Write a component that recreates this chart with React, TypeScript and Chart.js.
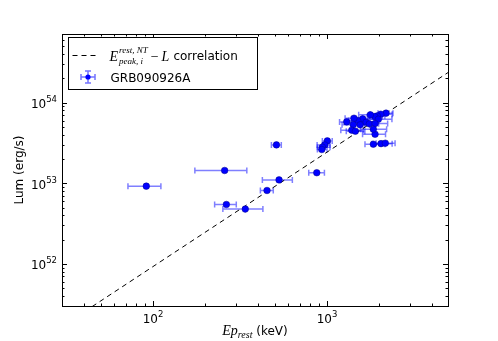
import { useEffect, useRef } from 'react';
import { Chart, registerables } from 'chart.js';

Chart.register(...registerables);

// Peak energy in rest frame (keV), with lower / upper error bar ends
const epRest = [91.5, 258, 512, 264, 339, 452, 530, 873,
  1004, 970, 940, 933,
  1845, 2043, 2162, 1888,
  2183, 2036, 1946, 1881, 1774, 1972, 1603, 1500, 1429, 1297, 1415, 1675, 1750, 1888, 1549, 1387, 1455, 1845];
const epLow = [71.8, 174, 479, 226, 252, 414, 425, 785,
  940, 877, 880, 880,
  1652, 1815, 1914, 1600,
  1963, 1766, 1750, 1700, 1520, 1760, 1380, 1330, 1270, 1180, 1220, 1450, 1560, 1580, 1380, 1200, 1290, 1560];
const epHigh = [111, 346, 546, 301, 428, 491, 632, 966,
  1071, 1040, 1040, 1000,
  2153, 2366, 2460, 2168,
  2393, 2366, 2150, 2080, 2010, 2360, 1850, 1720, 1600, 1450, 1640, 1950, 1980, 2230, 1760, 1620, 1650, 2200];
// Luminosity (erg/s)
const lum = [9.2e52, 1.44e53, 2.99e53, 5.45e52, 4.78e52, 8.13e52, 1.10e53, 1.35e53,
  3.35e53, 2.99e53, 2.80e53, 2.62e53,
  3.05e53, 3.10e53, 3.14e53, 4.05e53,
  7.40e53, 7.18e53, 6.84e53, 6.71e53, 7.05e53, 6.22e53, 6.28e53, 5.98e53, 6.41e53, 5.77e53, 5.33e53, 5.72e53, 5.45e53, 5.49e53, 5.30e53, 4.55e53, 4.42e53, 4.68e53];

// Correlation line endpoints
const corrEp = [30, 5000];
const corrLum = [1.675e51, 2.39e54];

// Axis limits and tick decades
const xMin = 30;
const xMax = 4955;
const yMin = 3e51;
const yMax = 7.1e54;
const xTickExps = [2, 3];
const yTickExps = [52, 53, 54];

const SANS = '"DejaVu Sans", sans-serif';
const MATH = '"Liberation Serif", "DejaVu Serif", serif';

function drawPow(ctx: CanvasRenderingContext2D, exp: number, x: number, y: number, align: 'center' | 'right') {
  ctx.font = `12px ${SANS}`;
  const wb = ctx.measureText('10').width;
  ctx.font = `8.5px ${SANS}`;
  const ws = ctx.measureText(String(exp)).width;
  const total = wb + ws;
  const x0 = align === 'center' ? x - total / 2 : x - total;
  ctx.textAlign = 'left';
  ctx.textBaseline = 'alphabetic';
  ctx.fillStyle = '#000';
  ctx.font = `12px ${SANS}`;
  ctx.fillText('10', x0, y);
  ctx.font = `8.5px ${SANS}`;
  ctx.fillText(String(exp), x0 + wb, y - 6);
}

const decorPlugin = {
  id: 'decor',
  beforeDatasetsDraw(chart: any) {
    const { ctx, chartArea: a } = chart;
    const xs = chart.scales.x;
    const ys = chart.scales.y;
    ctx.save();
    ctx.beginPath();
    ctx.rect(a.left, a.top, a.right - a.left, a.bottom - a.top);
    ctx.clip();
    ctx.strokeStyle = 'rgba(0,0,255,0.5)';
    ctx.lineWidth = 1.5;
    for (let i = 0; i < epRest.length; i++) {
      const py = ys.getPixelForValue(lum[i]);
      const x0 = xs.getPixelForValue(epLow[i]);
      const x1 = xs.getPixelForValue(epHigh[i]);
      ctx.beginPath();
      ctx.moveTo(x0, py);
      ctx.lineTo(x1, py);
      ctx.moveTo(x0, py - 3);
      ctx.lineTo(x0, py + 3);
      ctx.moveTo(x1, py - 3);
      ctx.lineTo(x1, py + 3);
      ctx.stroke();
    }
    ctx.restore();
  },
  afterDraw(chart: any) {
    const { ctx, chartArea: a } = chart;
    const xs = chart.scales.x;
    const ys = chart.scales.y;
    ctx.save();
    // ticks
    ctx.strokeStyle = '#000';
    ctx.lineWidth = 1;
    ctx.beginPath();
    for (let k = 1; k <= 3; k++) {
      for (let m = 1; m <= 9; m++) {
        const v = m * Math.pow(10, k);
        if (v < xMin || v > xMax) continue;
        const px = Math.round(xs.getPixelForValue(v)) + 0.5;
        const len = m === 1 ? 5 : 2.5;
        ctx.moveTo(px, a.bottom);
        ctx.lineTo(px, a.bottom - len);
        ctx.moveTo(px, a.top);
        ctx.lineTo(px, a.top + len);
      }
    }
    for (let k = 51; k <= 54; k++) {
      for (let m = 1; m <= 9; m++) {
        const v = m * Math.pow(10, k);
        if (v < yMin || v > yMax) continue;
        const py = Math.round(ys.getPixelForValue(v)) + 0.5;
        const len = m === 1 ? 5 : 2.5;
        ctx.moveTo(a.left, py);
        ctx.lineTo(a.left + len, py);
        ctx.moveTo(a.right, py);
        ctx.lineTo(a.right - len, py);
      }
    }
    ctx.stroke();
    // frame
    ctx.lineWidth = 1;
    ctx.strokeRect(Math.round(a.left) + 0.5, Math.round(a.top) + 0.5, Math.round(a.right - a.left), Math.round(a.bottom - a.top));

    // tick labels
    for (const e of xTickExps) {
      const px = xs.getPixelForValue(Math.pow(10, e));
      drawPow(ctx, e, px, a.bottom + 17, 'center');
    }
    for (const e of yTickExps) {
      const py = ys.getPixelForValue(Math.pow(10, e));
      drawPow(ctx, e, a.left - 5, py + 5.5, 'right');
    }

    // x title
    ctx.textBaseline = 'alphabetic';
    ctx.textAlign = 'left';
    ctx.font = `italic 14px ${MATH}`;
    const wEp = ctx.measureText('Ep').width;
    ctx.font = `italic 10px ${MATH}`;
    const wRest = ctx.measureText('rest').width;
    ctx.font = `12px ${SANS}`;
    const wKev = ctx.measureText(' (keV)').width;
    const tot = wEp + wRest + wKev;
    let tx = (a.left + a.right) / 2 - tot / 2;
    const ty = 335;
    ctx.font = `italic 14px ${MATH}`;
    ctx.fillText('Ep', tx, ty);
    tx += wEp;
    ctx.font = `italic 10px ${MATH}`;
    ctx.fillText('rest', tx, ty + 3);
    tx += wRest;
    ctx.font = `12px ${SANS}`;
    ctx.fillText(' (keV)', tx, ty);

    // y title
    ctx.save();
    ctx.translate(23, (a.top + a.bottom) / 2);
    ctx.rotate(-Math.PI / 2);
    ctx.textAlign = 'center';
    ctx.textBaseline = 'alphabetic';
    ctx.font = `12px ${SANS}`;
    ctx.fillText('Lum (erg/s)', 0, 0);
    ctx.restore();

    // legend
    const lx = a.left + 6.5;
    const lyTop = a.top + 3.5;
    ctx.fillStyle = '#fff';
    ctx.fillRect(lx, lyTop, 189, 52);
    ctx.strokeStyle = '#000';
    ctx.lineWidth = 1;
    ctx.strokeRect(lx, lyTop, 189, 52);
    // row 1: dashed line
    ctx.setLineDash([5, 4]);
    ctx.beginPath();
    ctx.moveTo(lx + 4, lyTop + 18);
    ctx.lineTo(lx + 28, lyTop + 18);
    ctx.stroke();
    ctx.setLineDash([]);
    ctx.fillStyle = '#000';
    let rx = lx + 41;
    const rb = lyTop + 23;
    ctx.font = `italic 14px ${MATH}`;
    ctx.fillText('E', rx, rb);
    rx += ctx.measureText('E').width + 1;
    ctx.font = `italic 9px ${MATH}`;
    ctx.fillText('rest, NT', rx, rb - 8);
    const wSup = ctx.measureText('rest, NT').width;
    ctx.fillText('peak, i', rx, rb + 3);
    const wSub = ctx.measureText('peak, i').width;
    rx += Math.max(wSup, wSub) + 3;
    ctx.font = `14px ${MATH}`;
    ctx.fillText('\u2212', rx, rb);
    rx += ctx.measureText('\u2212').width + 3;
    ctx.font = `italic 14px ${MATH}`;
    ctx.fillText('L', rx, rb);
    rx += ctx.measureText('L').width + 4;
    ctx.font = `12px ${SANS}`;
    ctx.fillText('correlation', rx, rb - 1);
    // row 2: errorbar marker
    const cx = lx + 19.5;
    const cy = lyTop + 39.5;
    ctx.strokeStyle = 'rgba(0,0,255,0.55)';
    ctx.lineWidth = 1.5;
    ctx.beginPath();
    ctx.moveTo(cx - 7, cy);
    ctx.lineTo(cx + 7, cy);
    ctx.moveTo(cx - 7, cy - 3);
    ctx.lineTo(cx - 7, cy + 3);
    ctx.moveTo(cx + 7, cy - 3);
    ctx.lineTo(cx + 7, cy + 3);
    ctx.moveTo(cx, cy - 6);
    ctx.lineTo(cx, cy + 6);
    ctx.moveTo(cx - 3, cy - 6);
    ctx.lineTo(cx + 3, cy - 6);
    ctx.moveTo(cx - 3, cy + 6);
    ctx.lineTo(cx + 3, cy + 6);
    ctx.stroke();
    ctx.fillStyle = '#0000ff';
    ctx.beginPath();
    ctx.arc(cx, cy, 2.6, 0, Math.PI * 2);
    ctx.fill();
    ctx.fillStyle = '#000';
    ctx.font = `12px ${SANS}`;
    ctx.fillText('GRB090926A', lx + 42, cy + 4.5);

    ctx.restore();
  },
};

export default function App() {
  const ref = useRef<HTMLCanvasElement>(null);
  useEffect(() => {
    document.body.style.margin = '0';
    const canvas = ref.current;
    if (!canvas) return;
    const points = epRest.map((e, i) => ({ x: e, y: lum[i] }));
    const corr = corrEp.map((e, i) => ({ x: e, y: corrLum[i] }));
    const chart = new Chart(canvas, {
      type: 'scatter',
      data: {
        datasets: [
          {
            label: 'GRB090926A',
            data: points,
            pointRadius: 3.3,
            pointBackgroundColor: '#0000ff',
            pointBorderColor: '#00008b',
            pointBorderWidth: 0.5,
            order: 1,
          },
          {
            type: 'line',
            label: 'correlation',
            data: corr,
            borderColor: '#000',
            borderWidth: 1,
            borderDash: [5, 4],
            pointRadius: 0,
            fill: false,
            order: 2,
          } as any,
        ],
      },
      options: {
        animation: false,
        responsive: false,
        devicePixelRatio: 1,
        layout: { padding: { left: 62, right: 50, top: 34, bottom: 35 } },
        plugins: { legend: { display: false }, tooltip: { enabled: false } },
        scales: {
          x: { type: 'logarithmic', min: xMin, max: xMax, display: false },
          y: { type: 'logarithmic', min: yMin, max: yMax, display: false },
        },
      },
      plugins: [decorPlugin],
    });
    return () => chart.destroy();
  }, []);
  return <canvas ref={ref} width={498} height={341} style={{ display: 'block' }} />;
}
